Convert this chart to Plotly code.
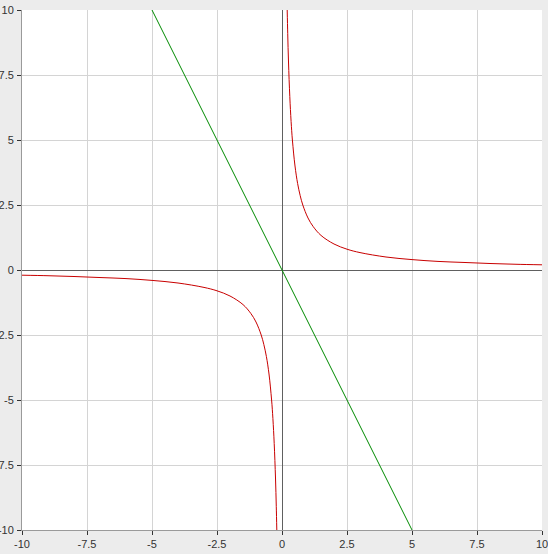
import plotly.graph_objects as go

# Red curve (y = 2/x)
red_pos_x = [0.2, 0.22, 0.25, 0.3, 0.35, 0.4, 0.5, 0.6, 0.7, 0.8, 1.0, 1.2, 1.5, 2.0, 2.5, 3.0, 4.0, 5.0, 6.0, 7.0, 8.0, 9.0, 10.0]
red_pos_y = [10.0, 9.09, 8.0, 6.67, 5.71, 5.0, 4.0, 3.33, 2.86, 2.5, 2.0, 1.67, 1.33, 1.0, 0.8, 0.67, 0.5, 0.4, 0.33, 0.29, 0.25, 0.22, 0.2]
red_neg_x = [-10.0, -9.0, -8.0, -7.0, -6.0, -5.0, -4.0, -3.0, -2.5, -2.0, -1.5, -1.2, -1.0, -0.8, -0.7, -0.6, -0.5, -0.4, -0.35, -0.3, -0.25, -0.22, -0.2]
red_neg_y = [-0.2, -0.22, -0.25, -0.29, -0.33, -0.4, -0.5, -0.67, -0.8, -1.0, -1.33, -1.67, -2.0, -2.5, -2.86, -3.33, -4.0, -5.0, -5.71, -6.67, -8.0, -9.09, -10.0]

# Green line (y = -2x)
green_x = [-5.0, 5.0]
green_y = [10.0, -10.0]

tick_vals = [-10, -7.5, -5, -2.5, 0, 2.5, 5, 7.5, 10]
tick_text = ["-10", "-7.5", "-5", "-2.5", "0", "2.5", "5", "7.5", "10"]

RED = "#C80000"
GREEN = "#008A00"

fig = go.Figure()
fig.add_trace(go.Scatter(x=red_pos_x, y=red_pos_y, mode="lines",
                         line=dict(color=RED, width=1, shape="spline"), hoverinfo="skip"))
fig.add_trace(go.Scatter(x=red_neg_x, y=red_neg_y, mode="lines",
                         line=dict(color=RED, width=1, shape="spline"), hoverinfo="skip"))
fig.add_trace(go.Scatter(x=green_x, y=green_y, mode="lines",
                         line=dict(color=GREEN, width=1), hoverinfo="skip"))

axis_common = dict(
    range=[-10, 10], tickmode="array", tickvals=tick_vals, ticktext=tick_text,
    showgrid=True, gridcolor="#D4D4D4", gridwidth=1,
    zeroline=True, zerolinecolor="#606060", zerolinewidth=1,
    showline=True, linecolor="#9A9A9A", linewidth=1,
    ticks="outside", ticklen=4, tickcolor="#333333",
    tickfont=dict(family="Liberation Sans, Arial, sans-serif", size=11, color="#333333"),
    fixedrange=True, automargin=False, ticklabeloverflow="allow",
)

fig.update_layout(
    width=548, height=554,
    margin=dict(l=22, r=6, t=10, b=24, autoexpand=False),
    paper_bgcolor="#ECECEC", plot_bgcolor="#FFFFFF",
    showlegend=False,
    xaxis=dict(**axis_common, ticklabelstandoff=0),
    yaxis=dict(**axis_common, ticklabelstandoff=1),
)

fig.write_html(
    "out.html",
    config={"displayModeBar": False},
    post_script="document.body.style.margin='0';document.body.style.overflow='hidden';",
)
